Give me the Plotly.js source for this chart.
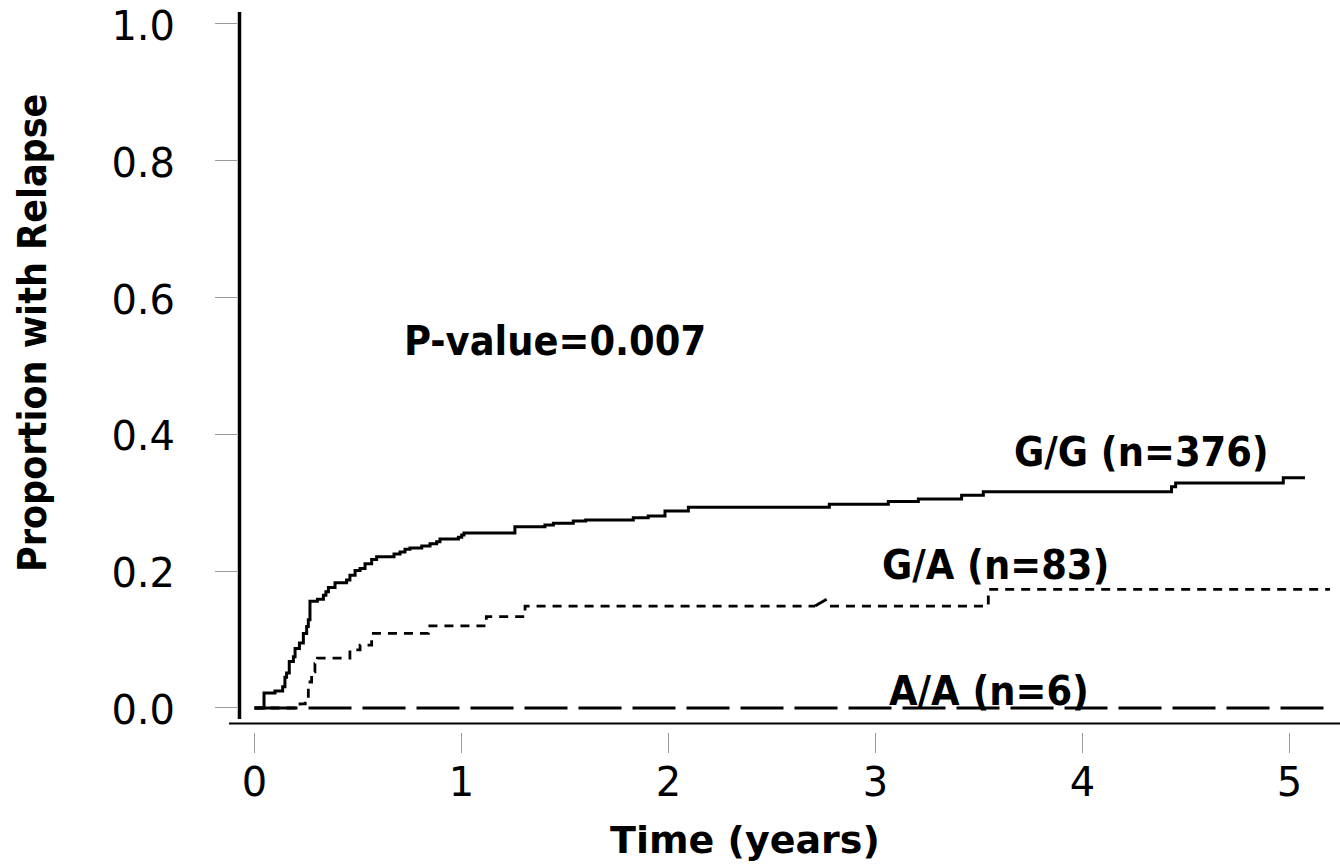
<!DOCTYPE html>
<html>
<head>
<meta charset="utf-8">
<script src="https://cdn.plot.ly/plotly-3.0.1.min.js"></script>
<style>
  html, body { margin: 0; padding: 0; background: #ffffff; }
  #chart { width: 1340px; height: 867px; }
</style>
</head>
<body>
<div id="chart"></div>
<script>
// ---- Data ----
var xTickVals = [0, 1, 2, 3, 4, 5];
var xTickText = ["0", "1", "2", "3", "4", "5"];
var yTickVals = [0, 0.2, 0.4, 0.6, 0.8, 1.0];
var yTickText = ["0.0", "0.2", "0.4", "0.6", "0.8", "1.0"];

// G/G (n=376) cumulative incidence, step function (value after each time)
var ggTime = [0, 0.046, 0.099, 0.136, 0.147, 0.155, 0.168, 0.188, 0.196, 0.217, 0.236, 0.252, 0.260, 0.268,
  0.304, 0.333, 0.345, 0.357, 0.389, 0.445, 0.461, 0.486, 0.510, 0.534, 0.566, 0.590, 0.674, 0.703, 0.727,
  0.751, 0.808, 0.848, 0.880, 0.896, 0.985, 1.001, 1.012, 1.258, 1.403, 1.444, 1.540, 1.600, 1.830, 1.902,
  1.983, 2.096, 2.777, 3.062, 3.207, 3.416, 3.521, 4.430, 4.450, 4.970, 5.075];
var ggProp = [0, 0.022, 0.025, 0.031, 0.045, 0.051, 0.068, 0.075, 0.087, 0.095, 0.109, 0.119, 0.129, 0.156,
  0.159, 0.165, 0.170, 0.176, 0.183, 0.187, 0.194, 0.201, 0.204, 0.211, 0.217, 0.221, 0.225, 0.228, 0.232,
  0.234, 0.237, 0.240, 0.243, 0.247, 0.2495, 0.253, 0.256, 0.265, 0.2675, 0.270, 0.2734, 0.275, 0.278, 0.2807,
  0.288, 0.2935, 0.2978, 0.302, 0.3055, 0.311, 0.316, 0.3235, 0.329, 0.3367, 0.3367];

// G/A (n=83)
var gaTime = [0, 0.220, 0.245, 0.260, 0.268, 0.276, 0.292, 0.304, 0.461, 0.510, 0.566, 0.574, 0.840, 1.120,
  1.307, 2.708, null, 2.780, 3.545, 5.196];
var gaProp = [0, 0.006, 0.0117, 0.026, 0.038, 0.053, 0.065, 0.073, 0.085, 0.092, 0.102, 0.109, 0.120, 0.1335,
  0.149, 0.149, null, 0.149, 0.1735, 0.1735];
// short oblique piece of the G/A curve near 2.7 years
var gaBlipTime = [2.708, 2.764];
var gaBlipProp = [0.149, 0.159];

// A/A (n=6)
var aaTime = [0, 5.2];
var aaProp = [0, 0];

var groupLabels = ["G/G (n=376)", "G/A (n=83)", "A/A (n=6)"];
var pValueText = "P-value=0.007";

// ---- Traces ----
var traces = [
  { x: aaTime, y: aaProp, mode: "lines", line: { shape: "hv", color: "#000", width: 2.8, dash: "43px,11px" }, hoverinfo: "skip", name: groupLabels[2] },
  { x: gaTime, y: gaProp, mode: "lines", connectgaps: false, line: { shape: "hv", color: "#000", width: 2.8, dash: "9px,7px" }, hoverinfo: "skip", name: groupLabels[1] },
  { x: gaBlipTime, y: gaBlipProp, mode: "lines", line: { shape: "linear", color: "#000", width: 2.8 }, hoverinfo: "skip", name: groupLabels[1] },
  { x: ggTime, y: ggProp, mode: "lines", line: { shape: "hv", color: "#000", width: 3 }, hoverinfo: "skip", name: groupLabels[0] }
];

var boldCond = { family: "DejaVu Sans Condensed, DejaVu Sans, sans-serif", size: 41, color: "#000", weight: "bold" };

var layout = {
  width: 1340, height: 867,
  margin: { l: 238, r: 0, t: 12, b: 135, pad: 0 },
  paper_bgcolor: "#fff", plot_bgcolor: "#fff",
  showlegend: false,
  font: { family: "DejaVu Sans, sans-serif", color: "#000" },
  xaxis: {
    range: [-0.0797, 5.244], tickvals: xTickVals, ticktext: xTickText,
    ticks: "outside", ticklen: 20, tickwidth: 1, tickcolor: "#9a9a9a",
    showline: false, showgrid: false, zeroline: false,
    tickfont: { family: "DejaVu Sans, sans-serif", size: 40, color: "#000" },
    ticklabelstandoff: -5, ticklabeloverflow: "allow", fixedrange: true
  },
  yaxis: {
    range: [-0.0351, 1.0175], tickvals: yTickVals, ticktext: yTickText,
    ticks: "outside", ticklen: 22, tickwidth: 1, tickcolor: "#9a9a9a",
    showline: false, showgrid: false, zeroline: false,
    tickfont: { family: "DejaVu Sans, sans-serif", size: 40, color: "#000" },
    ticklabelstandoff: 32, ticklabelshift: 2, ticklabeloverflow: "allow", fixedrange: true
  },
  shapes: [
    { type: "line", xref: "paper", yref: "paper", x0: 0.00136, x1: 0.00136, y0: 0.018, y1: 1, line: { color: "#000", width: 3.5 } },
    { type: "line", xref: "paper", yref: "paper", x0: -0.0082, x1: 1, y0: 0.0118, y1: 0.0118, line: { color: "#000", width: 2 } }
  ],
  annotations: [
    { text: "Proportion with Relapse", xref: "paper", yref: "paper", x: -0.187, y: 0.554, textangle: -90,
      showarrow: false, xanchor: "center", yanchor: "middle",
      font: { family: "DejaVu Sans Condensed, DejaVu Sans, sans-serif", size: 39, color: "#000", weight: "bold" } },
    { text: "Time (years)", xref: "paper", yref: "paper", x: 0.46, y: -0.15, showarrow: false,
      xanchor: "center", yanchor: "middle",
      font: { family: "DejaVu Sans, sans-serif", size: 38, color: "#000", weight: "bold" } },
    { text: pValueText, xref: "x", yref: "y", x: 1.452, y: 0.537, showarrow: false, xanchor: "center", yanchor: "middle", font: boldCond },
    { text: groupLabels[0], xref: "x", yref: "y", x: 4.283, y: 0.374, showarrow: false, xanchor: "center", yanchor: "middle", font: boldCond },
    { text: groupLabels[1], xref: "x", yref: "y", x: 3.582, y: 0.209, showarrow: false, xanchor: "center", yanchor: "middle", font: boldCond },
    { text: groupLabels[2], xref: "x", yref: "y", x: 3.548, y: 0.025, showarrow: false, xanchor: "center", yanchor: "middle", font: boldCond }
  ]
};

Plotly.newPlot("chart", traces, layout, { displayModeBar: false, staticPlot: true });
</script>
</body>
</html>
